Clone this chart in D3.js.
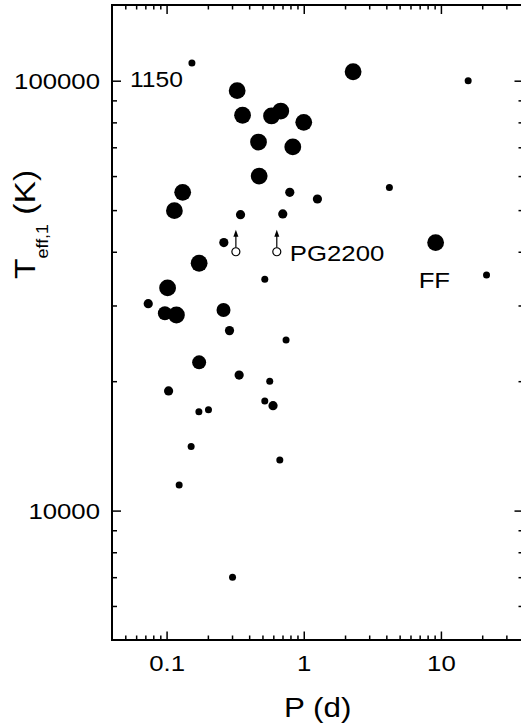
<!DOCTYPE html>
<html>
<head>
<meta charset="utf-8">
<title>Teff,1 vs P</title>
<script src="https://d3js.org/d3.v7.min.js"></script>
<style>
    body {
        margin: 0;
        background-color: #fff;
    }
    .axis path {
        stroke: none;
    }
    .axis line {
        stroke: #000;
        stroke-width: 1.5px;
    }
    .axis text {
        fill: #000;
        font-family: 'Liberation Sans', Arial, sans-serif;
        font-size: 23px;
    }
</style>
</head>
<body>
<div id="chart"></div>
<script>
    // orbital period (d) and primary temperature (K)
    var period = [0.153, 0.327, 0.358, 0.582, 0.680, 1.00, 0.468, 0.832, 2.29, 15.8,
                  0.473, 0.131, 0.791, 1.258, 4.21, 0.114, 0.346, 0.703, 0.2615, 0.1727,
                  0.520, 0.1017, 0.0735, 0.0972, 0.118, 0.260, 0.2876, 0.743, 0.1727, 0.338,
                  0.565, 9.15, 21.5, 0.1034, 0.520, 0.597, 0.172, 0.202, 0.151, 0.669,
                  0.1235, 0.3025];
    var teff = [110000, 94800, 83100, 82800, 85000, 80000, 72000, 70150, 104900, 100000,
                60000, 55000, 55000, 53070, 56440, 49860, 48800, 48980, 42010, 37610,
                34520, 32960, 30290, 28780, 28510, 29290, 26220, 24950, 22120, 20660,
                19990, 42010, 35330, 18980, 17990, 17540, 16990, 17170, 14090, 13120,
                11475, 7000];
    // marker class as plotted: 3 = large, 2 = medium, 1 = small, 0 = tiny
    var markClass = [0, 3, 3, 3, 3, 3, 3, 3, 3, 0,
                     3, 3, 1, 1, 0, 3, 1, 1, 1, 3,
                     0, 3, 1, 2, 3, 2, 1, 0, 2, 1,
                     0, 3, 0, 1, 0, 1, 0, 0, 0, 0,
                     0, 0];

    // lower limits on Teff (open circles with arrows)
    var limitPeriod = [0.32, 0.636];
    var limitTeff = [40000, 40000];

    // named systems
    var noteText = ['1150', 'PG2200', 'FF'];
    var notePeriod = [0.153, 0.636, 9.15];
    var noteTeff = [110000, 40000, 42010];

    var xMajor = [0.1, 1, 10];
    var xMinor = [0.05, 0.06, 0.07, 0.08, 0.09, 0.2, 0.3, 0.4, 0.5, 0.6, 0.7, 0.8, 0.9,
                  2, 3, 4, 5, 6, 7, 8, 9, 20, 30];
    var yMajor = [10000, 100000];
    var yMinor = [6000, 7000, 8000, 9000, 20000, 30000, 40000, 50000, 60000, 70000, 80000, 90000];

    var width = 521;
    var height = 726;
    var plotL = 112, plotR = 523.5, plotT = 5, plotB = 640;
    var stretch = 1.12;
    var font = "'Liberation Sans', Arial, sans-serif";

    var svg = d3.select('#chart')
        .append('svg')
        .attr('width', width)
        .attr('height', height);

    var x = d3.scaleLog().domain([0.04, 40]).range([plotL, plotR]);
    var y = d3.scaleLog().domain([5000, 150000]).range([plotB, plotT]);

    // bottom axis, ticks pointing inward
    svg.append('g')
        .attr('class', 'axis')
        .attr('transform', 'translate(0,' + plotB + ')')
        .call(d3.axisBottom(x).tickValues(xMinor).tickSize(-4.5).tickFormat(''));
    var xAxis = svg.append('g')
        .attr('class', 'axis')
        .attr('transform', 'translate(0,' + plotB + ')')
        .call(d3.axisBottom(x).tickValues(xMajor).tickSize(-8.5).tickPadding(14.5)
            .tickFormat(function(d) { return d3.format('')(d); }));
    xAxis.selectAll('text').attr('transform', 'scale(' + stretch + ',1)');

    // top axis
    svg.append('g')
        .attr('class', 'axis')
        .attr('transform', 'translate(0,' + plotT + ')')
        .call(d3.axisTop(x).tickValues(xMinor).tickSize(-4.5).tickFormat(''));
    svg.append('g')
        .attr('class', 'axis')
        .attr('transform', 'translate(0,' + plotT + ')')
        .call(d3.axisTop(x).tickValues(xMajor).tickSize(-9).tickFormat(''));

    // left axis
    svg.append('g')
        .attr('class', 'axis')
        .attr('transform', 'translate(' + plotL + ',0)')
        .call(d3.axisLeft(y).tickValues(yMinor).tickSize(-5).tickFormat(''));
    var yAxis = svg.append('g')
        .attr('class', 'axis')
        .attr('transform', 'translate(' + plotL + ',0)')
        .call(d3.axisLeft(y).tickValues(yMajor).tickSize(-9).tickPadding(12)
            .tickFormat(d3.format('d')));
    yAxis.selectAll('text')
        .attr('x', -12 / stretch)
        .attr('dy', '0.35em')
        .attr('transform', 'scale(' + stretch + ',1)');

    // right axis
    svg.append('g')
        .attr('class', 'axis')
        .attr('transform', 'translate(' + plotR + ',0)')
        .call(d3.axisRight(y).tickValues(yMinor).tickSize(-5).tickFormat(''));
    svg.append('g')
        .attr('class', 'axis')
        .attr('transform', 'translate(' + plotR + ',0)')
        .call(d3.axisRight(y).tickValues(yMajor).tickSize(-9).tickFormat(''));

    // frame
    svg.append('rect')
        .attr('x', plotL)
        .attr('y', plotT)
        .attr('width', plotR - plotL)
        .attr('height', plotB - plotT)
        .style('fill', 'none')
        .style('stroke', '#000')
        .style('stroke-width', 2);

    // data points
    var radius = d3.scaleOrdinal().domain([0, 1, 2, 3]).range([3.5, 4.6, 7, 8.4]);
    var points = d3.range(period.length).map(function(i) {
        return {p: period[i], t: teff[i], c: markClass[i]};
    });

    svg.append('g')
        .selectAll('circle')
        .data(points)
        .enter()
        .append('circle')
        .attr('cx', function(d) { return x(d.p); })
        .attr('cy', function(d) { return y(d.t); })
        .attr('r', function(d) { return radius(d.c); })
        .style('fill', '#000');

    // lower limits: open circle with an upward arrow
    var limits = d3.range(limitPeriod.length).map(function(i) {
        return {p: limitPeriod[i], t: limitTeff[i]};
    });
    var lim = svg.append('g')
        .selectAll('g')
        .data(limits)
        .enter()
        .append('g')
        .attr('transform', function(d) { return 'translate(' + x(d.p) + ',' + y(d.t) + ')'; });
    lim.append('line')
        .attr('x1', 0).attr('x2', 0)
        .attr('y1', -4).attr('y2', -16)
        .style('stroke', '#000')
        .style('stroke-width', 1.2);
    lim.append('path')
        .attr('d', 'M0,-22L-2.5,-15L2.5,-15Z')
        .style('fill', '#000');
    lim.append('circle')
        .attr('r', 4)
        .style('fill', '#fff')
        .style('stroke', '#000')
        .style('stroke-width', 1.2);

    // labels next to named systems
    var noteOffset = {'1150': [-62, 24], 'PG2200': [13, 9], 'FF': [-17, 45.5]};
    noteText.forEach(function(txt, i) {
        var off = noteOffset[txt];
        svg.append('text')
            .attr('transform', 'translate(' + (x(notePeriod[i]) + off[0]) + ',' +
                (y(noteTeff[i]) + off[1]) + ') scale(' + stretch + ',1)')
            .text(txt)
            .style('font-family', font)
            .style('font-size', txt === '1150' ? '22px' : '23px')
            .style('fill', '#000');
    });

    // axis titles
    svg.append('text')
        .attr('transform', 'translate(' + ((plotL + plotR) / 2) + ',717) scale(' + stretch + ',1)')
        .attr('text-anchor', 'middle')
        .text('P (d)')
        .style('font-family', font)
        .style('font-size', '28px');

    var yTitle = svg.append('text')
        .attr('transform', 'translate(35,279) rotate(-90) scale(' + stretch + ',1)')
        .style('font-family', font)
        .style('font-size', '30px');
    yTitle.append('tspan').text('T');
    yTitle.append('tspan').attr('dy', 13).style('font-size', '16px').text('eff,1');
    yTitle.append('tspan').attr('dy', -13).text(' (K)');
</script>
</body>
</html>
